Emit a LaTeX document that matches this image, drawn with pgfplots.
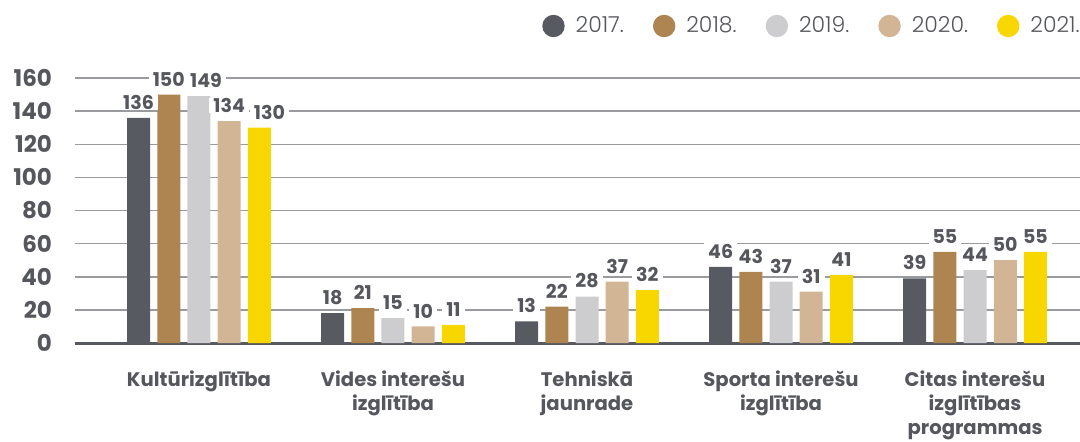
\documentclass[border=0pt]{standalone}
\usepackage{fontspec}
\setmainfont{Poppins}
\IfFontExistsTF{Poppins Light}{\newfontfamily\lightfont{Poppins Light}}{\let\lightfont\relax}
\usepackage{pgfplots}
\pgfplotsset{compat=1.18}
\definecolor{c17}{HTML}{575A61}
\definecolor{c18}{HTML}{AE8450}
\definecolor{c19}{HTML}{CDCDCF}
\definecolor{c20}{HTML}{D1B594}
\definecolor{c21}{HTML}{F8D700}
\definecolor{txt}{HTML}{55575D}
\definecolor{grd}{HTML}{9A9B9F}
\begin{document}
\begin{tikzpicture}
\begin{axis}[
  at={(0,0)}, anchor=south west,
  scale only axis, width=502.5pt, height=132.5pt,
  xmin=-0.639, xmax=4.541, ymin=0, ymax=160,
  ybar=3.6pt, bar width=11.5pt,
  axis x line*=bottom, axis y line*=left,
  x axis line style={draw=c17, line width=1.5pt},
  y axis line style={draw=none},
  ytick={0,20,...,160},
  ymajorgrids, grid style={grd, line width=0.75pt},
  major tick length=0pt,
  xtick={0,...,4},
  xticklabels={Kultūrizglītība,{Vides interešu\\izglītība},{Tehniskā\\jaunrade},{Sporta interešu\\izglītība},{Citas interešu\\izglītības\\programmas}},
  xticklabel style={align=center, font=\fontsize{9.8}{12}\selectfont\bfseries, text=txt, anchor=north, yshift=-10.5pt},
  yticklabel style={font=\fontsize{11.5}{13}\selectfont\bfseries, text=txt, anchor=east, xshift=-8pt},
  /pgf/number format/assume math mode=true,
  clip=false,
  nodes near coords,
  visualization depends on={\thisrow{dx}\as\dx},
  every node near coord/.append style={font=\fontsize{9.5}{11}\selectfont\bfseries, text=txt, fill=white, inner xsep=2pt, inner ysep=0.4pt, yshift=3.6pt, xshift=\dx pt},
  legend columns=5,
  legend style={at={(1,1)}, anchor=east, yshift=26pt, xshift=2pt, draw=none, inner sep=0pt,
    font=\fontsize{11}{13}\selectfont\lightfont, text=txt,
    /tikz/every odd column/.append style={column sep=3.5pt},
    /tikz/every even column/.append style={column sep=12.5pt}},
  legend image code/.code={\fill[#1] (0pt,0) circle (5.6pt);},
]
\addplot[fill=c17, draw=none] table {x y dx
0 136 0
1 18 0
2 13 0
3 46 0
4 39 0
};
\addplot[fill=c18, draw=none] table {x y dx
0 150 0
1 21 0
2 22 0
3 43 0
4 55 0
};
\addplot[fill=c19, draw=none] table {x y dx
0 149 3.5
1 15 0
2 28 0
3 37 0
4 44 0
};
\addplot[fill=c20, draw=none] table {x y dx
0 134 0
1 10 0
2 37 0
3 31 0
4 50 0
};
\addplot[fill=c21, draw=none] table {x y dx
0 130 5
1 11 0
2 32 0
3 41 0
4 55 0
};
\legend{2017.,2018.,2019.,2020.,2021.}
\end{axis}
\pgfresetboundingbox
\useasboundingbox (-37.5pt,-49pt) rectangle (502.5pt,171.5pt);
\end{tikzpicture}
\end{document}
